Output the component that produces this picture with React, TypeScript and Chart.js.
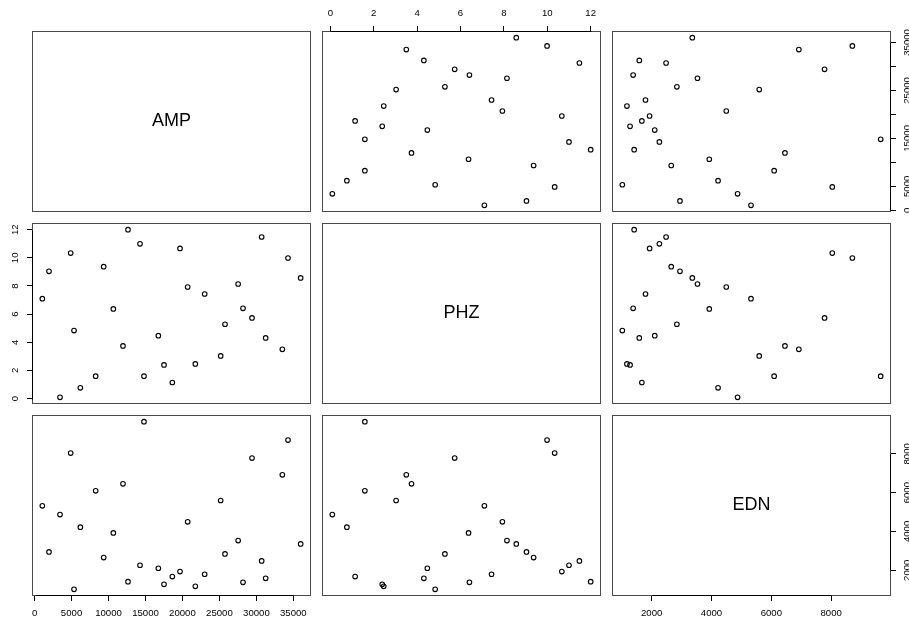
import React, { useEffect, useRef } from "react";
import { Chart, registerables } from "chart.js";

Chart.register(...registerables);

// ---- data (one entry per observation) ----
const VARIABLES = ["AMP", "PHZ", "EDN"];
const AMP = [1050, 1952, 3439, 4882, 5333, 6189, 8263, 9345, 10652, 11959, 12636, 14258, 14799, 16738, 17504, 18631, 19668, 20705, 21742, 23004, 25168, 25754, 27531, 28188, 29405, 30713, 31254, 33508, 34274, 35987];
const PHZ = [7.10, 9.04, 0.09, 10.34, 4.83, 0.76, 1.59, 9.37, 6.37, 3.74, 12.0, 11.0, 1.59, 4.47, 2.39, 1.14, 10.67, 7.93, 2.46, 7.43, 3.03, 5.28, 8.14, 6.41, 5.73, 11.48, 4.31, 3.50, 9.99, 8.57];
const EDN = [5320, 2946, 4872, 8037, 1020, 4219, 6094, 2654, 3926, 6455, 1415, 2258, 9654, 2103, 1278, 1673, 1931, 4494, 1174, 1794, 5595, 2843, 3531, 1381, 7779, 2482, 1587, 6919, 8708, 3359];

const AMP_TICKS = [0, 5000, 10000, 15000, 20000, 25000, 30000, 35000];
const PHZ_TICKS = [0, 2, 4, 6, 8, 10, 12];
const EDN_TICKS = [2000, 4000, 6000, 8000];

const SERIES = [AMP, PHZ, EDN];
const TICKS = [AMP_TICKS, PHZ_TICKS, EDN_TICKS];

// ---- layout / style ----
const FONT_FAMILY = "'Liberation Sans', Arial, Helvetica, sans-serif";
const TICK_FONT_SIZE = 9.6;
const LABEL_FONT_SIZE = 18;
const COL_LEFT = [32, 322, 612];
const ROW_TOP = [31, 223, 415];
const PANEL_W = 279;
const PANEL_H = 181;
const M = 36;
const AXIS_SIZE = 30;
const TICK_LEN = 5;
const D_H = 17.3;
const D_V = 16.5;
const LABEL_GAP = 5;

function padRange(arr: number[]): [number, number] {
  const mn = Math.min(...arr);
  const mx = Math.max(...arr);
  const d = (mx - mn) * 0.04;
  return [mn - d, mx + d];
}

let measureCtx: CanvasRenderingContext2D | null = null;
function textWidth(label: string): number {
  if (!measureCtx) measureCtx = document.createElement("canvas").getContext("2d");
  if (!measureCtx) return label.length * TICK_FONT_SIZE * 0.556;
  measureCtx.font = `${TICK_FONT_SIZE}px ${FONT_FAMILY}`;
  return measureCtx.measureText(label).width;
}

// R-style: skip a tick label if it would overlap the previously drawn one
function hideOverlapping(s: any, lengthPx: number, lo: number, hi: number) {
  const perUnit = lengthPx / (hi - lo);
  let lastEdge: number | null = null;
  for (const t of s.ticks) {
    const label = String(t.label ?? "");
    const c = (t.value - lo) * perUnit;
    const half = textWidth(label) / 2;
    if (lastEdge !== null && c - half < lastEdge + LABEL_GAP) {
      t.label = "";
    } else {
      lastEdge = c + half;
    }
  }
}

const decorPlugin = {
  id: "panelDecor",
  afterDraw(chart: any, _args: any, opts: any) {
    const { ctx, chartArea: a } = chart;
    ctx.save();
    ctx.lineWidth = 1;
    ctx.strokeStyle = "#4a4a4a";
    ctx.strokeRect(a.left + 0.5, a.top + 0.5, a.width - 1, a.height - 1);
    for (const s of [chart.scales.x, chart.scales.y]) {
      if (!s || !s.options.display || !s.ticks.length) continue;
      const p1 = s.getPixelForValue(s.ticks[0].value);
      const p2 = s.getPixelForValue(s.ticks[s.ticks.length - 1].value);
      ctx.strokeStyle = "#000";
      ctx.beginPath();
      if (s.isHorizontal()) {
        const y = s.position === "top" ? a.top + 0.5 : a.bottom - 0.5;
        ctx.moveTo(Math.round(p1) + 0.5, y);
        ctx.lineTo(Math.round(p2) + 0.5, y);
      } else {
        const x = s.position === "left" ? a.left + 0.5 : a.right - 0.5;
        ctx.moveTo(x, Math.round(p1) + 0.5);
        ctx.lineTo(x, Math.round(p2) + 0.5);
      }
      ctx.stroke();
    }
    if (opts && opts.label) {
      ctx.font = `${LABEL_FONT_SIZE}px ${FONT_FAMILY}`;
      ctx.fillStyle = "#000";
      ctx.textAlign = "center";
      ctx.textBaseline = "middle";
      ctx.fillText(opts.label, (a.left + a.right) / 2, (a.top + a.bottom) / 2);
    }
    ctx.restore();
  },
};

function Panel({ i, j }: { i: number; j: number }) {
  const ref = useRef<HTMLCanvasElement>(null);
  useEffect(() => {
    if (!ref.current) return;
    const xVar = j;
    const yVar = i;
    const diag = i === j;
    const showTop = i === 0 && j % 2 === 1;
    const showBottom = i === 2 && j % 2 === 0;
    const showLeft = j === 0 && i % 2 === 1;
    const showRight = j === 2 && i % 2 === 0;
    const xShow = showTop || showBottom;
    const yShow = showLeft || showRight;
    const [xmin, xmax] = padRange(SERIES[xVar]);
    const [ymin, ymax] = padRange(SERIES[yVar]);
    const points = diag ? [] : SERIES[xVar].map((x, k) => ({ x, y: SERIES[yVar][k] }));
    const hPad = D_H - TICK_LEN - (TICK_FONT_SIZE * 1.2) / 2;
    const widest = Math.max(...TICKS[yVar].map((v) => textWidth(String(v))));
    const vPad = D_V - TICK_LEN - widest / 2;
    const tickFont = { size: TICK_FONT_SIZE, family: FONT_FAMILY };
    const grid = {
      drawOnChartArea: false,
      drawTicks: true,
      tickLength: TICK_LEN,
      color: "#000",
      tickColor: "#000",
      lineWidth: 1,
    };
    const chart = new Chart(ref.current, {
      type: "scatter",
      data: {
        datasets: [
          {
            data: points,
            pointStyle: "circle",
            pointRadius: 2.3,
            pointBorderWidth: 1.1,
            backgroundColor: "rgba(0,0,0,0)",
            borderColor: "#000",
            pointBackgroundColor: "rgba(0,0,0,0)",
            pointBorderColor: "#000",
          },
        ],
      },
      options: {
        responsive: false,
        animation: false,
        events: [],
        layout: {
          padding: {
            left: showLeft ? M - AXIS_SIZE : M,
            right: showRight ? M - AXIS_SIZE : M,
            top: showTop ? M - AXIS_SIZE : M,
            bottom: showBottom ? M - AXIS_SIZE : M,
          },
        },
        plugins: {
          legend: { display: false },
          tooltip: { enabled: false },
          panelDecor: { label: diag ? VARIABLES[i] : null },
        } as any,
        scales: {
          x: {
            type: "linear",
            position: showTop ? "top" : "bottom",
            display: xShow,
            min: xmin,
            max: xmax,
            afterBuildTicks: (s: any) => {
              s.ticks = TICKS[xVar].map((v) => ({ value: v }));
            },
            afterTickToLabelConversion: (s: any) => {
              hideOverlapping(s, PANEL_W, xmin, xmax);
            },
            afterFit: (s: any) => {
              s.height = xShow ? AXIS_SIZE : 0;
              s.paddingLeft = 0;
              s.paddingRight = 0;
              s.paddingTop = 0;
              s.paddingBottom = 0;
            },
            grid,
            border: { display: false },
            ticks: {
              font: tickFont,
              color: "#000",
              padding: hPad,
              minRotation: 0,
              maxRotation: 0,
              autoSkip: false,
              callback: (v: any) => String(v),
            },
          },
          y: {
            type: "linear",
            position: showRight ? "right" : "left",
            display: yShow,
            min: ymin,
            max: ymax,
            afterBuildTicks: (s: any) => {
              s.ticks = TICKS[yVar].map((v) => ({ value: v }));
            },
            afterTickToLabelConversion: (s: any) => {
              hideOverlapping(s, PANEL_H, ymin, ymax);
            },
            afterFit: (s: any) => {
              s.width = yShow ? AXIS_SIZE : 0;
              s.paddingLeft = 0;
              s.paddingRight = 0;
              s.paddingTop = 0;
              s.paddingBottom = 0;
            },
            grid,
            border: { display: false },
            ticks: {
              font: tickFont,
              color: "#000",
              padding: vPad,
              minRotation: 90,
              maxRotation: 90,
              crossAlign: "center",
              autoSkip: false,
              callback: (v: any) => String(v),
            },
          },
        },
      } as any,
      plugins: [decorPlugin as any],
    });
    return () => chart.destroy();
  }, [i, j]);
  const w = PANEL_W + 2 * M;
  const h = PANEL_H + 2 * M;
  return (
    <canvas
      ref={ref}
      width={w}
      height={h}
      style={{
        position: "absolute",
        left: COL_LEFT[j] - M,
        top: ROW_TOP[i] - M,
        width: w,
        height: h,
      }}
    />
  );
}

export default function App() {
  const cells: React.ReactNode[] = [];
  for (let i = 0; i < 3; i++) {
    for (let j = 0; j < 3; j++) {
      cells.push(<Panel key={`${i}-${j}`} i={i} j={j} />);
    }
  }
  return (
    <div
      style={{
        position: "fixed",
        left: 0,
        top: 0,
        width: 909,
        height: 617,
        overflow: "hidden",
        background: "#fff",
      }}
    >
      {cells}
    </div>
  );
}
